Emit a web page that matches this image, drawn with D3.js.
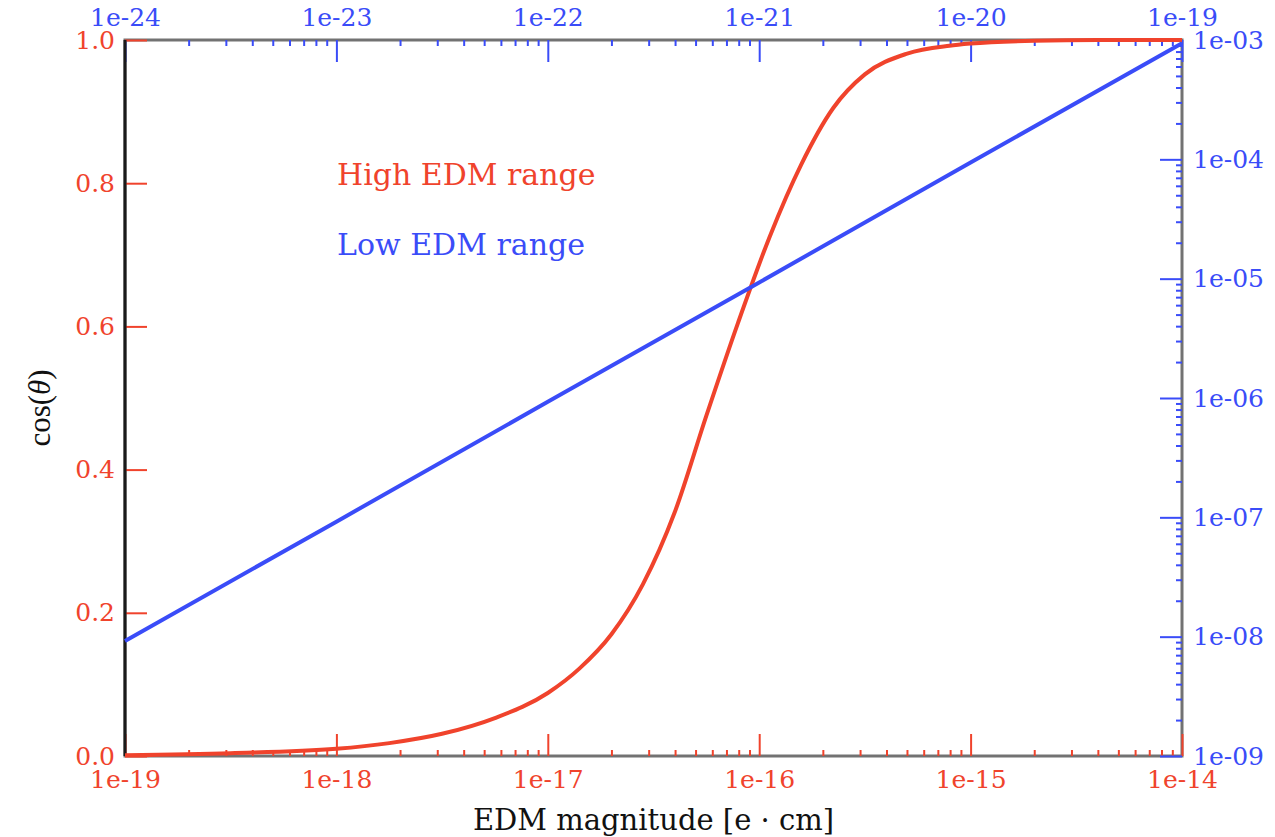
<!DOCTYPE html>
<meta charset="utf-8">
<html>
<head><title>EDM magnitude vs cos(theta)</title>
<script src="https://d3js.org/d3.v7.min.js"></script>
<style>
    body { margin: 0; background: #fff; }
    .tick text { font-family: "DejaVu Serif", serif; font-size: 25px; }
    .tick line { stroke-width: 2; }
</style>
</head>
<body>
<script>
// high EDM range curve (bottom / left axes)
var highEdm = [1e-19, 3.16e-19, 1e-18, 1.78e-18, 3.16e-18, 5.62e-18, 1e-17, 1.41e-17,
    2e-17, 2.82e-17, 3.98e-17, 5.62e-17, 7.94e-17, 1.12e-16, 1.58e-16, 2.24e-16,
    3.16e-16, 5.01e-16, 7.94e-16, 1e-15, 2e-15, 4e-15, 1e-14];
var highCos = [0.001, 0.004, 0.010, 0.018, 0.031, 0.053, 0.088, 0.122,
    0.170, 0.240, 0.340, 0.475, 0.605, 0.725, 0.826, 0.905,
    0.952, 0.981, 0.992, 0.995, 0.999, 1.0, 1.0];

// low EDM range line (top / right axes)
var lowEdm = [1e-24, 1e-23, 1e-22, 1e-21, 1e-20, 1e-19];
var lowVal = [9.2e-9, 9.2e-8, 9.3e-7, 9.3e-6, 9.4e-5, 9.4e-4];

var bottomTicks = [1e-19, 1e-18, 1e-17, 1e-16, 1e-15, 1e-14];
var bottomLabels = ["1e-19", "1e-18", "1e-17", "1e-16", "1e-15", "1e-14"];
var topTicks = [1e-24, 1e-23, 1e-22, 1e-21, 1e-20, 1e-19];
var topLabels = ["1e-24", "1e-23", "1e-22", "1e-21", "1e-20", "1e-19"];
var leftTicks = [0, 0.2, 0.4, 0.6, 0.8, 1.0];
var leftLabels = ["0.0", "0.2", "0.4", "0.6", "0.8", "1.0"];
var rightTicks = [1e-9, 1e-8, 1e-7, 1e-6, 1e-5, 1e-4, 1e-3];
var rightLabels = ["1e-09", "1e-08", "1e-07", "1e-06", "1e-05", "1e-04", "1e-03"];

var red = "#f0432c", blue = "#3a4cf8";
var margin = {top: 40, right: 93, bottom: 81, left: 125};
var width = 1275 - margin.left - margin.right,
    height = 837 - margin.top - margin.bottom;

var svg = d3.select("body").append("svg")
    .attr("width", 1275)
    .attr("height", 837);
var g = svg.append("g")
    .attr("transform", "translate(" + margin.left + "," + margin.top + ")");

var x = d3.scaleLog().domain([1e-19, 1e-14]).range([0, width]);
var xTop = d3.scaleLog().domain([1e-24, 1e-19]).range([0, width]);
var y = d3.scaleLinear().domain([0, 1]).range([height, 0]);
var yRight = d3.scaleLog().domain([1e-9, 1e-3]).range([height, 0]);

function minors(scale, majors) {
    return scale.ticks().filter(function(d) {
        return !majors.some(function(m) { return Math.abs(d / m - 1) < 1e-6; });
    });
}

// frame
g.append("rect")
    .attr("width", width)
    .attr("height", height)
    .attr("fill", "none")
    .attr("stroke", "#727272")
    .attr("stroke-width", 3);

function drawAxis(axisFn, scale, majors, labels, color, transform, pad) {
    var major = g.append("g")
        .attr("transform", transform)
        .call(axisFn(scale).tickValues(majors)
            .tickFormat(function(d, i) { return labels[i]; })
            .tickSize(-22).tickSizeOuter(0).tickPadding(pad));
    major.select(".domain").remove();
    major.selectAll("line").attr("stroke", color);
    major.selectAll("text").attr("fill", color);
    if (scale.base) {
        var minor = g.append("g")
            .attr("transform", transform)
            .call(axisFn(scale).tickValues(minors(scale, majors))
                .tickFormat("").tickSize(-6).tickSizeOuter(0));
        minor.select(".domain").remove();
        minor.selectAll("line").attr("stroke", color);
    }
}

drawAxis(d3.axisBottom, x, bottomTicks, bottomLabels, red, "translate(0," + height + ")", 14);
drawAxis(d3.axisTop, xTop, topTicks, topLabels, blue, "translate(0,0)", 14);
drawAxis(d3.axisLeft, y, leftTicks, leftLabels, red, "translate(0,0)", 10);
drawAxis(d3.axisRight, yRight, rightTicks, rightLabels, blue, "translate(" + width + ",0)", 11);

// left axis line
g.append("line")
    .attr("x1", 0).attr("x2", 0)
    .attr("y1", 0).attr("y2", height)
    .attr("stroke", "#1a1a1a")
    .attr("stroke-width", 3);

// curves
var highLine = d3.line()
    .x(function(d, i) { return x(highEdm[i]); })
    .y(function(d) { return y(d); })
    .curve(d3.curveMonotoneX);
g.append("path")
    .datum(highCos)
    .attr("d", highLine)
    .attr("fill", "none")
    .attr("stroke", red)
    .attr("stroke-width", 4);

var lowLine = d3.line()
    .x(function(d, i) { return xTop(lowEdm[i]); })
    .y(function(d) { return yRight(d); });
g.append("path")
    .datum(lowVal)
    .attr("d", lowLine)
    .attr("fill", "none")
    .attr("stroke", blue)
    .attr("stroke-width", 4);

// legend texts
svg.append("text")
    .attr("x", 337).attr("y", 185)
    .attr("fill", red)
    .style("font-family", "DejaVu Serif, serif")
    .style("font-size", "30px")
    .text("High EDM range");
svg.append("text")
    .attr("x", 337).attr("y", 255)
    .attr("fill", blue)
    .style("font-family", "DejaVu Serif, serif")
    .style("font-size", "30px")
    .text("Low EDM range");

// axis titles
svg.append("text")
    .attr("x", margin.left + width / 2).attr("y", 830)
    .attr("text-anchor", "middle")
    .attr("fill", "#111")
    .style("font-family", "DejaVu Serif, serif")
    .style("font-size", "29px")
    .text("EDM magnitude [e \u00b7 cm]");

var ylab = svg.append("text")
    .attr("transform", "translate(50,408) rotate(-90)")
    .attr("text-anchor", "middle")
    .attr("fill", "#111")
    .style("font-family", "Liberation Serif, serif")
    .style("font-size", "31px");
ylab.append("tspan").text("cos(");
ylab.append("tspan").style("font-style", "italic").text("\u03b8");
ylab.append("tspan").text(")");
</script>
</body>
</html>
